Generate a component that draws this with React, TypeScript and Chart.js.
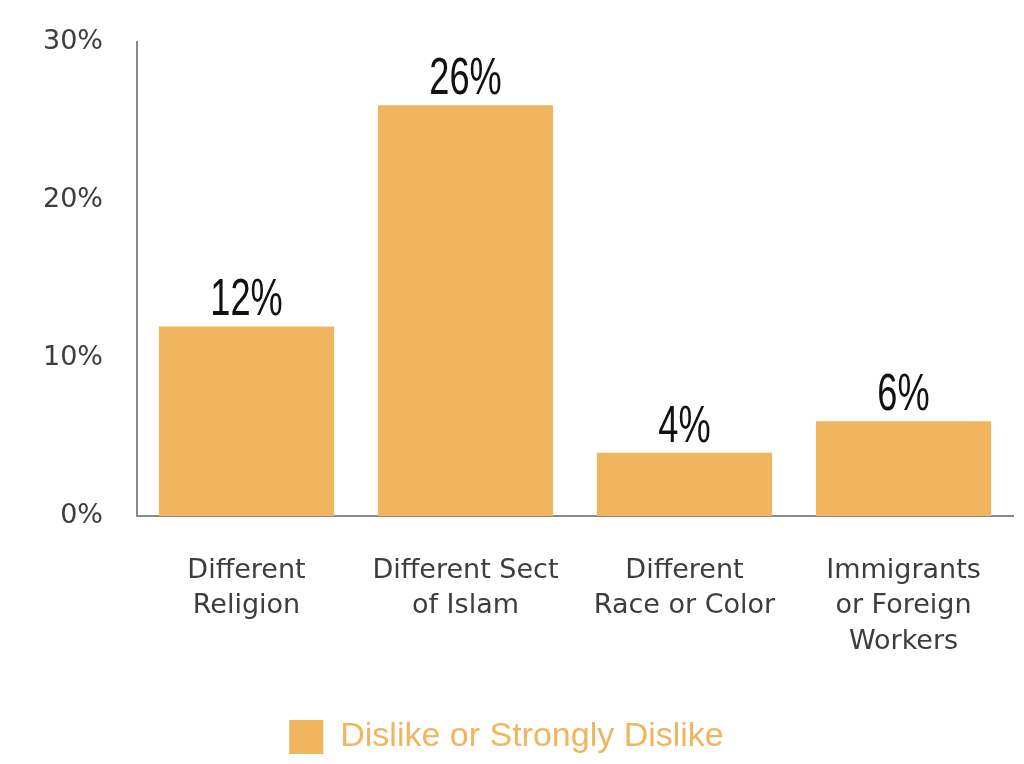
import React, { useEffect, useRef } from "react";
import { Chart, registerables } from "chart.js";

Chart.register(...registerables);

const categories: string[][] = [
  ["Different", "Religion"],
  ["Different Sect", "of Islam"],
  ["Different", "Race or Color"],
  ["Immigrants", "or Foreign", "Workers"],
];
const seriesName = "Dislike or Strongly Dislike";
const values: number[] = [12, 26, 4, 6];
const yTicks: number[] = [0, 10, 20, 30];

const BAR_COLOR = "#F0B55E";
const TEXT_COLOR = "#3d3d3d";

const valueLabelPlugin = {
  id: "valueLabels",
  afterDatasetsDraw(chart: any) {
    const ctx = chart.ctx;
    const meta = chart.getDatasetMeta(0);
    meta.data.forEach((el: any, i: number) => {
      ctx.save();
      ctx.font = '51px "Liberation Sans", Arial, sans-serif';
      ctx.fillStyle = "#111";
      ctx.textAlign = "center";
      ctx.textBaseline = "alphabetic";
      ctx.translate(el.x, el.y - 11);
      ctx.scale(0.71, 1);
      ctx.fillText(values[i] + "%", 0, 0);
      ctx.restore();
    });
  },
};

export default function App() {
  const ref = useRef<HTMLCanvasElement | null>(null);
  useEffect(() => {
    document.body.style.margin = "0";
    if (!ref.current) return;
    const chart = new Chart(ref.current, {
      type: "bar",
      data: {
        labels: categories,
        datasets: [
          {
            label: seriesName,
            data: values,
            backgroundColor: BAR_COLOR,
            borderWidth: 0,
            barPercentage: 0.8,
            categoryPercentage: 1,
          },
        ],
      },
      options: {
        animation: false,
        responsive: false,
        maintainAspectRatio: false,
        layout: { padding: { left: 0, right: 11, top: 42, bottom: 0 } },
        plugins: {
          tooltip: { enabled: false },
          legend: {
            display: true,
            position: "bottom",
            labels: {
              boxWidth: 34,
              boxHeight: 34,
              padding: 8,
              color: BAR_COLOR,
              font: { family: '"Liberation Sans", Arial, sans-serif', size: 34 },
            },
          },
        },
        scales: {
          x: {
            grid: { display: false, drawTicks: false },
            border: { display: true, color: "#8a8a8a", width: 2 },
            ticks: {
              color: TEXT_COLOR,
              padding: 37,
              maxRotation: 0,
              autoSkip: false,
              font: { family: '"DejaVu Sans", sans-serif', size: 27, lineHeight: 1.32 },
            },
            afterFit: (s: any) => {
              s.height = 196;
            },
          },
          y: {
            min: 0,
            max: 30,
            afterBuildTicks: (s: any) => {
              s.ticks = yTicks.map((v) => ({ value: v }));
            },
            grid: { display: false, drawTicks: false },
            border: { display: true, color: "#8a8a8a", width: 2 },
            ticks: {
              color: TEXT_COLOR,
              padding: 34,
              font: { family: '"DejaVu Sans", sans-serif', size: 27 },
              callback: (v: any) => v + "%",
            },
            afterFit: (s: any) => {
              s.width = 137;
              s.paddingTop = 0;
              s.paddingBottom = 0;
            },
          },
        },
      },
      plugins: [valueLabelPlugin],
    });
    return () => chart.destroy();
  }, []);
  return (
    <div style={{ width: 1024, height: 764 }}>
      <canvas ref={ref} width={1024} height={764} style={{ display: "block" }} />
    </div>
  );
}
